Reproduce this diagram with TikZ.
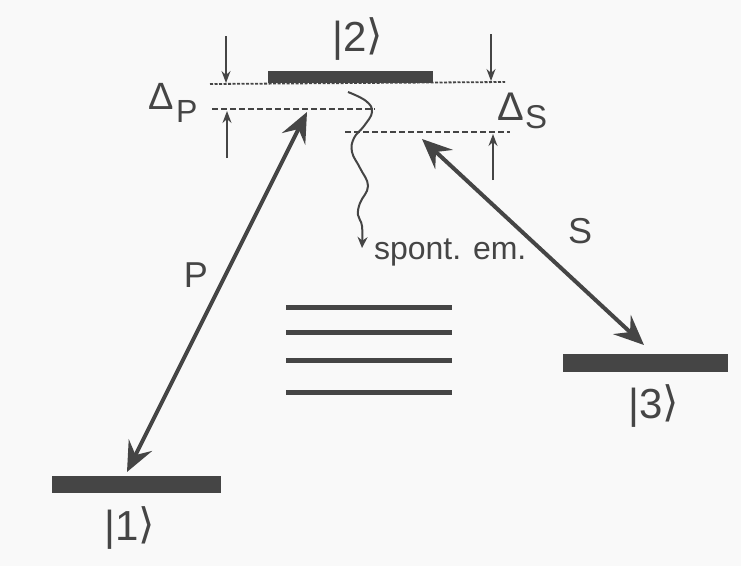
\documentclass[tikz,border=0pt]{standalone}
\usepackage{fontspec}
\setmainfont{Liberation Sans}
\newfontfamily\djv{DejaVu Sans}
\usetikzlibrary{arrows.meta}
\definecolor{ink}{HTML}{454545}
\definecolor{paper}{HTML}{F9F9F9}
\newcommand{\myket}[1]{{\textbar}#1{\djv\raisebox{0.05em}{⟩}}}
\begin{document}
\begin{tikzpicture}[x=1pt,y=-1pt,
  every node/.style={inner sep=0pt, outer sep=0pt, text=ink},
  levelbar/.style={fill=ink, draw=none, rectangle},
  thinlevel/.style={draw=ink, line width=1.8pt, dash pattern=on 3pt off 1.5pt},
  detlevel/.style={draw=ink, line width=2.6pt, dash pattern=on 6pt off 3pt},
  ketlabel/.style={font=\fontsize{42}{44}\selectfont},
  biglabel/.style={font=\fontsize{36}{38}\selectfont},
  smallarrow/.style={draw=ink, line width=1.4pt, -{Stealth[length=12pt,width=9pt,inset=4pt]}},
  laserarrow/.style={draw=ink, line width=4pt, {Stealth[length=30pt,width=26pt,inset=11pt]}-{Stealth[length=30pt,width=26pt,inset=11pt]}},
  manifold/.style={draw=ink, line width=5pt}
]
\fill[paper] (0,0) rectangle (741,566);
\useasboundingbox (0,0) rectangle (741,566);

% levels
\node[levelbar, minimum width=169pt, minimum height=17pt] (l1) at (136.5,484) {};
\node[levelbar, minimum width=165pt, minimum height=12pt] (l2) at (350.5,77) {};
\node[levelbar, minimum width=165pt, minimum height=18pt] (l3) at (645.5,362.5) {};

% ket labels
\node[ketlabel] (k2) at (358,39) {\myket{2}};
\node[ketlabel] (k1) at (130,528) {\myket{1}};
\node[ketlabel] (k3) at (654,406) {\myket{3}};

% dashed reference and detuned levels
\coordinate (r1) at (210,84);
\coordinate (r2) at (505,82);
\draw[thinlevel] (r1) -- (r2);
\coordinate (dp1) at (212,109);
\coordinate (dp2) at (375,109);
\draw[detlevel] (dp1) -- (dp2);
\coordinate (ds1) at (345,132);
\coordinate (ds2) at (510,132);
\draw[detlevel] (ds1) -- (ds2);

% detuning markers
\coordinate (a1s) at (226,36);
\coordinate (a1e) at (226,83);
\draw[smallarrow] (a1s) -- (a1e);
\coordinate (a2s) at (491,34);
\coordinate (a2e) at (491,81);
\draw[smallarrow] (a2s) -- (a2e);
\coordinate (a3s) at (227,158);
\coordinate (a3e) at (227,111);
\draw[smallarrow] (a3s) -- (a3e);
\coordinate (a4s) at (493,180);
\coordinate (a4e) at (493,134);
\draw[smallarrow] (a4s) -- (a4e);

% detuning labels
\node[anchor=base west, font=\fontsize{38}{40}\selectfont] (dP) at (148,109) {Δ};
\node[anchor=base west, font=\fontsize{32}{34}\selectfont] (dPs) at (176,122) {P};
\node[anchor=base west, font=\fontsize{40}{42}\selectfont] (dS) at (497,120) {Δ};
\node[anchor=base west, font=\fontsize{33}{34}\selectfont] (dSs) at (525,128) {S};

% laser couplings
\coordinate (p1) at (127,472);
\coordinate (p2) at (307,112);
\draw[laserarrow] (p1) -- (p2);
\coordinate (s1) at (422,139);
\coordinate (s2) at (644,345);
\draw[laserarrow] (s1) -- (s2);
\node[biglabel] (P) at (196,275) {P};
\node[biglabel] (S) at (580,231) {S};

% spontaneous emission
\coordinate (w0) at (348,92);
\coordinate (w1) at (362,248);
\draw[draw=ink, line width=2pt, -{Stealth[length=11pt,width=10pt]}]
  plot[smooth, tension=0.7] coordinates {(w0) (366,101) (372,112) (364,126) (354,138) (352,152) (360,168) (368,186) (360,203) (358,215) (362,226) (w1)};
\node[anchor=base west, font=\fontsize{32}{34}\selectfont] (se) at (374,259) {spont. em.};

% manifold of other levels
\coordinate (m1a) at (286,307); \coordinate (m1b) at (452,307);
\coordinate (m2a) at (286,332); \coordinate (m2b) at (452,332);
\coordinate (m3a) at (286,360); \coordinate (m3b) at (452,360);
\coordinate (m4a) at (286,392); \coordinate (m4b) at (452,392);
\draw[manifold] (m1a) -- (m1b);
\draw[manifold] (m2a) -- (m2b);
\draw[manifold] (m3a) -- (m3b);
\draw[manifold] (m4a) -- (m4b);
\end{tikzpicture}
\end{document}
